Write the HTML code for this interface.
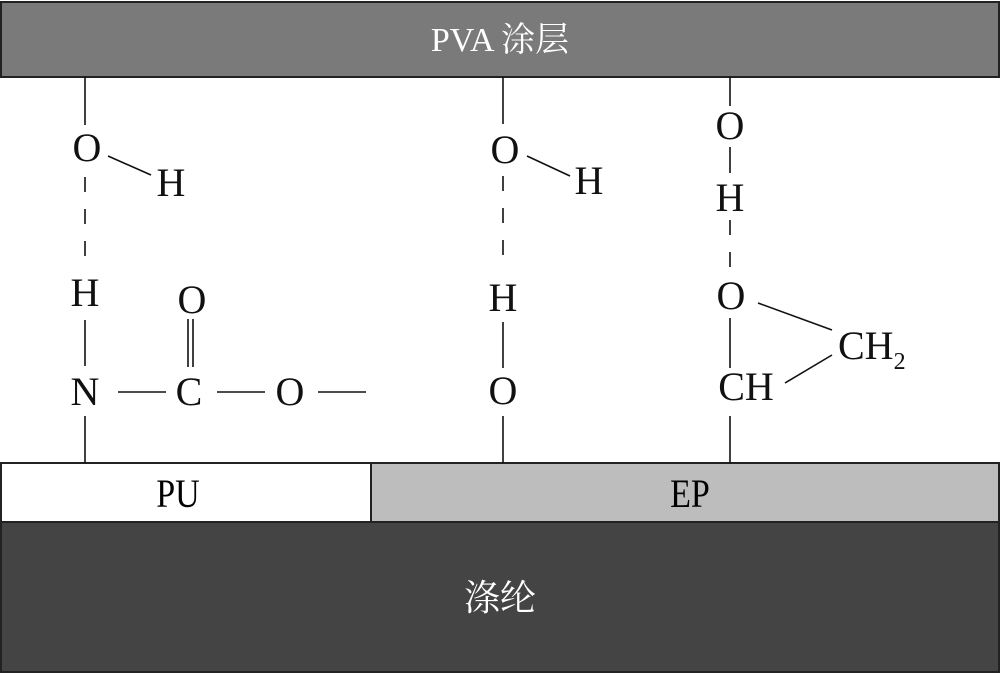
<!DOCTYPE html>
<html><head><meta charset="utf-8"><style>
html,body{margin:0;padding:0;background:#fff;}
svg{display:block;}
text{font-family:"Liberation Serif","Noto Serif CJK SC",serif;}
</style></head><body>
<svg width="1000" height="674" viewBox="0 0 1000 674" xmlns="http://www.w3.org/2000/svg">
<rect x="1" y="2" width="998" height="75" fill="#7a7a7a" stroke="#222" stroke-width="2"/>
<text x="500" y="51" font-size="34" fill="#fff" text-anchor="middle">PVA 涂层</text>
<rect x="1" y="463" width="370" height="59" fill="#fff" stroke="#222" stroke-width="2"/>
<rect x="371" y="463" width="628" height="59" fill="#bdbdbd" stroke="#222" stroke-width="2"/>
<rect x="1" y="522" width="998" height="150" fill="#444" stroke="#222" stroke-width="2"/>
<text x="178" y="507" font-size="40" text-anchor="middle" transform="translate(178 0) scale(0.85 1) translate(-178 0)">PU</text>
<text x="690" y="507" font-size="40" text-anchor="middle" transform="translate(690 0) scale(0.85 1) translate(-690 0)">EP</text>
<text x="500" y="610" font-size="36" fill="#fff" text-anchor="middle" font-family="Noto Sans CJK SC, sans-serif">涤纶</text>
<g stroke="#111" stroke-width="1.6" fill="none">
<line x1="85" y1="77" x2="85" y2="125"/>
<line x1="108" y1="156" x2="151" y2="175"/>
<line x1="85" y1="177" x2="85" y2="256" stroke-dasharray="15,17"/>
<line x1="85" y1="320" x2="85" y2="366"/>
<line x1="85" y1="416" x2="85" y2="463"/>
<line x1="118" y1="392" x2="166" y2="392"/>
<line x1="217" y1="392" x2="265" y2="392"/>
<line x1="318" y1="392" x2="366" y2="392"/>
<line x1="188" y1="319" x2="188" y2="367"/>
<line x1="193" y1="319" x2="193" y2="367"/>
<line x1="503" y1="77" x2="503" y2="124"/>
<line x1="527" y1="156" x2="570" y2="176"/>
<line x1="503" y1="176" x2="503" y2="256" stroke-dasharray="15,17"/>
<line x1="503" y1="322" x2="503" y2="368"/>
<line x1="503" y1="416" x2="503" y2="463"/>
<line x1="730" y1="77" x2="730" y2="106"/>
<line x1="730" y1="147" x2="730" y2="173"/>
<line x1="730" y1="220" x2="730" y2="267" stroke-dasharray="15,17"/>
<line x1="730" y1="318" x2="730" y2="368"/>
<line x1="730" y1="416" x2="730" y2="463"/>
<line x1="758" y1="303" x2="832" y2="330"/>
<line x1="785" y1="383" x2="832" y2="355"/>
</g>
<g font-size="40" fill="#111" text-anchor="middle">
<text x="87" y="161">O</text>
<text x="171" y="196">H</text>
<text x="85" y="306">H</text>
<text x="85" y="405">N</text>
<text x="189" y="405">C</text>
<text x="192" y="313">O</text>
<text x="290" y="405">O</text>
<text x="505" y="163">O</text>
<text x="589" y="194">H</text>
<text x="503" y="311">H</text>
<text x="503" y="404">O</text>
<text x="730" y="139">O</text>
<text x="730" y="211">H</text>
<text x="731" y="309">O</text>
<text x="746" y="400">CH</text>
<text x="838" y="359" text-anchor="start">CH<tspan font-size="24" dy="10">2</tspan></text>
</g>
</svg>
</body></html>
